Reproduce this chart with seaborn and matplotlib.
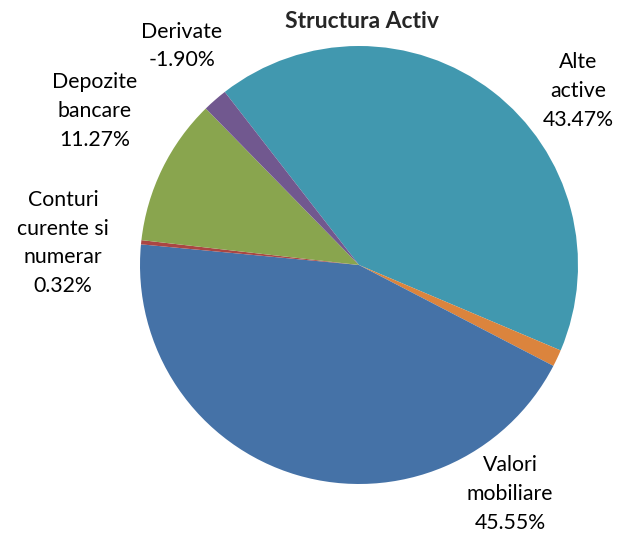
import numpy as np
import matplotlib.pyplot as plt
import seaborn as sns

# Structura Activ - pie chart
categories = ["Alte\nactive", "", "Valori\nmobiliare", "Conturi\ncurente si\nnumerar",
              "Depozite\nbancare", "Derivate"]
values = [43.47, 1.29, 45.55, 0.32, 11.27, -1.90]
colors = ["#4198AF", "#DB843D", "#4572A7", "#AA4643", "#89A54E", "#71588F"]

# label centres in pixel coords (x, y from top)
label_pos = [(578, 91), None, (510, 494), (63, 243), (95, 111), (182, 46)]

sns.set_style("white")
plt.rcParams["font.family"] = ["Lato", "DejaVu Sans"]

fig = plt.figure(figsize=(6.19, 5.38), dpi=100)
ax = fig.add_axes([0, 0, 1, 1])

# Excel draws the negative value with its absolute size
sizes = np.abs(values)
ax.pie(sizes, colors=colors, startangle=127.8, counterclock=False,
       center=(359, 538 - 265), radius=219, frame=True,
       wedgeprops={"linewidth": 0})
ax.set_xlim(0, 619)
ax.set_ylim(0, 538)
ax.axis("off")

for name, v, pos in zip(categories, values, label_pos):
    if pos is None:
        continue
    ax.text(pos[0], 538 - pos[1], f"{name}\n{v:.2f}%", ha="center", va="center",
            fontsize=15.3, linespacing=1.55, color="#000000")

ax.text(362, 538 - 22, "Structura Activ", ha="center", va="center",
        fontsize=16.5, fontweight="bold")

fig.savefig("out.png", dpi=100)
